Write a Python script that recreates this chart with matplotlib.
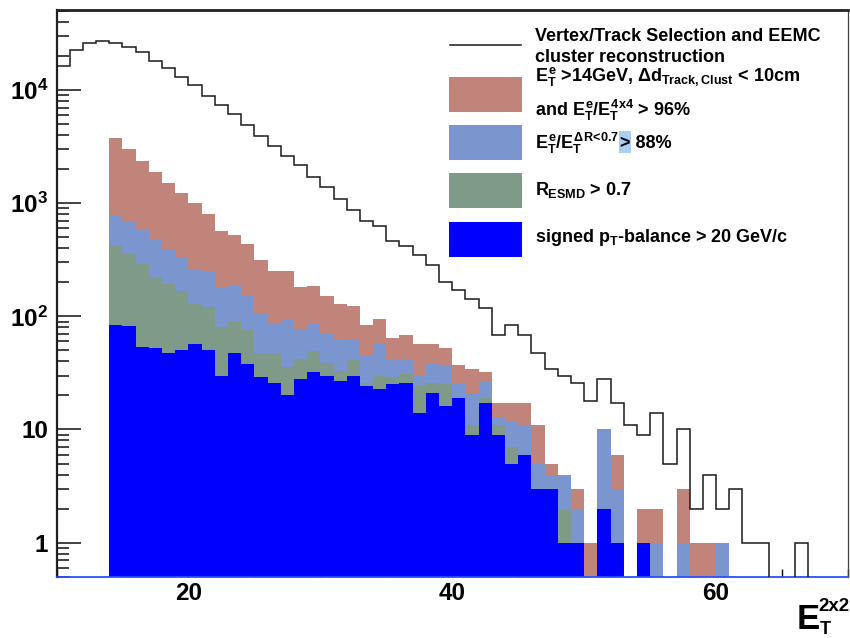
import matplotlib
matplotlib.use("Agg")
import numpy as np
import matplotlib.pyplot as plt
from matplotlib.ticker import FixedLocator, FixedFormatter, LogLocator, NullFormatter, MultipleLocator
from matplotlib.patches import Rectangle
from matplotlib.lines import Line2D

plt.rcParams['font.family'] = ['Liberation Sans', 'DejaVu Sans']
plt.rcParams['font.weight'] = 'bold'
plt.rcParams['mathtext.fontset'] = 'custom'
plt.rcParams['mathtext.rm'] = 'Liberation Sans:bold'
plt.rcParams['mathtext.it'] = 'Liberation Sans:bold'
plt.rcParams['mathtext.bf'] = 'Liberation Sans:bold'
plt.rcParams['mathtext.sf'] = 'Liberation Sans:bold'

# ---------------- data (1 GeV bins) ----------------
all_lo = 10  # first bin low edge of the outline histogram
all_sel = [16400, 22500, 26300, 27400, 26300, 24100, 21500, 18000, 15700, 13100,
           11000, 8900, 7400, 6100, 4900, 3940, 3200, 2620, 2160, 1720,
           1400, 1090, 875, 695, 626, 468, 415, 350, 282, 202,
           171, 142, 118, 68, 84, 68, 47, 34, 30, 26,
           18, 28, 17, 11, 9, 14, 5, 10, 2, 4,
           2, 3, 1, 1, 0, 0, 1, 0, 0, 0]

fill_lo = 14  # first bin low edge of the filled histograms
cut_iso = [3750, 2990, 2370, 1890, 1500, 1235, 1010, 800, 565, 523,
           433, 318, 253, 253, 180, 187, 152, 128, 124, 84,
           94, 64, 68, 57, 57, 52, 37, 34, 32, 17,
           17, 17, 11, 5, 4, 3, 1, 10, 6, 0,
           2, 2, 0, 3, 1, 1, 1]
cut_cone = [785, 695, 578, 479, 385, 336, 260, 248, 177, 185,
            152, 106, 88, 95, 77, 85, 71, 62, 63, 45,
            57, 41, 42, 30, 39, 37, 25, 21, 27, 13,
            12, 11, 5, 4, 4, 2, 0, 10, 3, 0,
            1, 1, 0, 1, 0, 0, 1]
cut_esmd = [430, 360, 290, 222, 193, 169, 129, 122, 80, 90,
            75, 47, 47, 36, 42, 49, 39, 33, 41, 26,
            30, 29, 31, 24, 26, 25, 19, 11, 19, 11,
            7, 6, 3, 3, 2, 1, 0, 2, 1, 0,
            1, 0, 0, 0, 0, 0, 0]
cut_ptbal = [84, 82, 54, 52, 47, 50, 57, 50, 30, 47,
             38, 29, 26, 20, 28, 32, 30, 27, 30, 24,
             23, 25, 26, 14, 21, 16, 19, 9, 17, 9,
             5, 6, 3, 3, 1, 1, 0, 2, 1, 0,
             1, 0, 0, 0, 0, 0, 0]

legend_line_text = ["Vertex/Track Selection and EEMC", "cluster reconstruction",
                    r"$E_T^e$ >14GeV, $\Delta d_{Track,Clust}$ < 10cm"]
legend_iso_text = r"and $E_T^e/E_T^{4x4}$ > 96%"
legend_cone_text_a = r"$E_T^e/E_T^{\Delta R\!<\!0.7}$"
legend_cone_text_b = "> 88%"
legend_esmd_text = r"$R_{ESMD}$ > 0.7"
legend_ptbal_text = r"signed $p_T$-balance > 20 GeV/c"

ytick_vals = [1, 10, 100, 1000, 10000]
ytick_labels = ["1", "10", r"$10^{2}$", r"$10^{3}$", r"$10^{4}$"]
xtick_vals = [20, 40, 60]

c_red = '#c0847a'
c_lblue = '#7b96ce'
c_green = '#7f9a88'
c_blue = '#0000ff'

# ---------------- figure ----------------
W, H = 850, 638
fig = plt.figure(figsize=(W / 100, H / 100), dpi=100)
ax = fig.add_axes([56.5 / W, 1 - 576.7 / H, (848 - 56.5) / W, (576.7 - 10) / H])

floor = 0.1
def pos(v):
    v = np.asarray(v, dtype=float)
    return np.where(v > 0, v, floor)

e_all = np.arange(all_lo, all_lo + len(all_sel) + 1)
e_fill = np.arange(fill_lo, fill_lo + len(cut_iso) + 1)

for vals, col in [(cut_iso, c_red), (cut_cone, c_lblue), (cut_esmd, c_green), (cut_ptbal, c_blue)]:
    ax.stairs(pos(vals), e_fill, baseline=floor, fill=True, color=col, lw=0, zorder=1)
ax.stairs(pos(all_sel), e_all, baseline=floor, color='#1a1a1a', lw=1.1, zorder=3)

ax.set_yscale('log')
ax.set_xlim(10, 70)
ax.set_ylim(0.5, 5.1e4)
ax.set_axisbelow(True)

ax.yaxis.set_major_locator(FixedLocator(ytick_vals))
ax.yaxis.set_major_formatter(FixedFormatter(ytick_labels))
ax.yaxis.set_minor_locator(LogLocator(base=10, subs=np.arange(2, 10)))
ax.yaxis.set_minor_formatter(NullFormatter())
ax.xaxis.set_major_locator(FixedLocator(xtick_vals))
ax.xaxis.set_minor_locator(MultipleLocator(5))

ax.tick_params(axis='y', which='major', direction='in', length=17, width=1.2,
               labelsize=17.5, pad=6, right=False, color='#222222')
ax.tick_params(axis='y', which='minor', direction='in', length=8.5, width=1.2,
               right=False, color='#222222')
ax.tick_params(axis='x', which='major', direction='in', length=11, width=1.0,
               labelsize=17.5, pad=4, top=False)
ax.tick_params(axis='x', which='minor', direction='in', length=6, width=1.0, top=False)

ax.spines['top'].set_linewidth(2.0)
ax.spines['top'].set_color('#222222')
ax.spines['left'].set_linewidth(1.6)
ax.spines['left'].set_color('#222222')
ax.spines['right'].set_linewidth(0.9)
ax.spines['right'].set_color('#444444')
ax.spines['bottom'].set_linewidth(1.3)
ax.spines['bottom'].set_color('#2a4fff')

# ---------------- legend (manual, ROOT style) ----------------
def fx(x):
    return x / W
def fy(y):
    return 1 - y / H

fs_leg = 13
fig.add_artist(Line2D([fx(450), fx(521)], [fy(45), fy(45)], color='#1a1a1a', lw=1.1,
                      transform=fig.transFigure))
sw_tops = [77, 125, 173, 222]
for top, col in zip(sw_tops, [c_red, c_lblue, c_green, c_blue]):
    fig.add_artist(Rectangle((fx(449), fy(top + 35)), (522 - 449) / W, 35 / H,
                             facecolor=col, edgecolor='none', transform=fig.transFigure))

for txt, bl in zip(legend_line_text, [40.7, 61.5, 81.5]):
    fig.text(fx(535), fy(bl), txt, fontsize=fs_leg, va='baseline', ha='left')
fig.text(fx(535), fy(116), legend_iso_text, fontsize=fs_leg, va='baseline', ha='left')
fig.text(fx(535), fy(148.5), legend_cone_text_a, fontsize=fs_leg, va='baseline', ha='left')
# stray highlight behind ">" in the reference
fig.add_artist(Rectangle((fx(619), fy(153)), 12 / W, 22 / H, facecolor='#a8cff2',
                         edgecolor='none', transform=fig.transFigure, zorder=0.5))
fig.text(fx(620), fy(148.5), legend_cone_text_b, fontsize=fs_leg, va='baseline', ha='left')
fig.text(fx(535), fy(195), legend_esmd_text, fontsize=fs_leg, va='baseline', ha='left')
fig.text(fx(535), fy(242), legend_ptbal_text, fontsize=fs_leg, va='baseline', ha='left')

# ---------------- x axis title ----------------
fig.text(fx(797), fy(629), "E", fontsize=25, va='baseline', ha='left')
fig.text(fx(818), fy(611), "2x2", fontsize=13.5, va='baseline', ha='left')
fig.text(fx(820), fy(633.5), "T", fontsize=13, va='baseline', ha='left')

fig.savefig("out.png", dpi=100)
